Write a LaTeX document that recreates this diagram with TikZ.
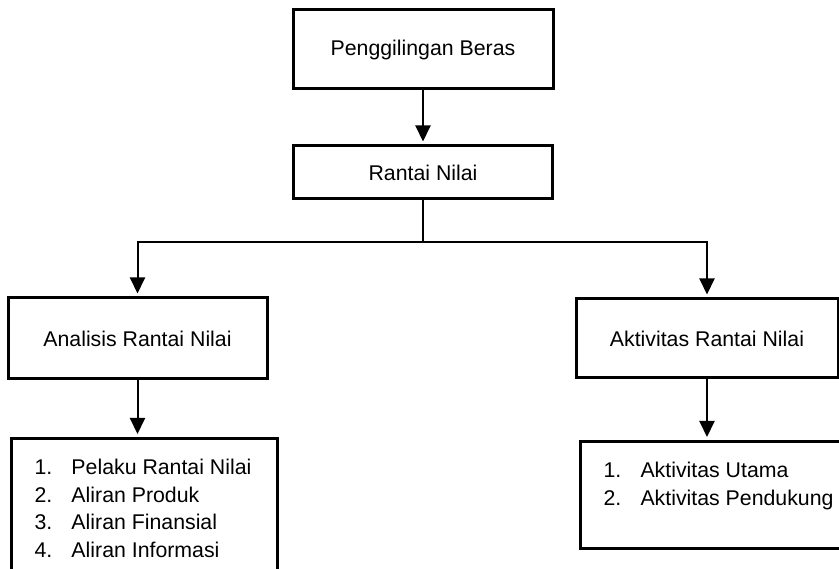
\documentclass[tikz,border=0pt]{standalone}
\usepackage{fontspec}
\setmainfont{Liberation Sans}
\usetikzlibrary{arrows.meta}
\begin{document}
\begin{tikzpicture}[x=1pt, y=-1pt, >={Triangle[width=15pt,length=16pt]},
  kotak/.style={draw, line width=3pt, inner sep=0pt, font=\fontsize{21.3}{27.7}\selectfont},
  daftar/.style={kotak, anchor=north west, inner xsep=23pt, inner ysep=16.6pt},
  garis/.style={line width=2pt},
  panah/.style={garis, ->, shorten >=3pt}]
  \useasboundingbox (0,0) rectangle (839,569);
  \clip (0,0) rectangle (839,569);

  \node[kotak, minimum width=260pt, minimum height=79pt] (beras) at (423,49.5) {Penggilingan Beras};
  \node[kotak, minimum width=259pt, minimum height=53pt] (nilai) at (423,172.5) {Rantai Nilai};
  \node[kotak, minimum width=259pt, minimum height=81pt] (analisis) at (137.5,338.5) {Analisis Rantai Nilai};
  \node[kotak, minimum width=262pt, minimum height=79pt] (aktivitas) at (707,338.5) {Aktivitas Rantai Nilai};

  \node[daftar] (daftarAnalisis) at (10,437) {\begin{tabular}[t]{@{}p{37pt}@{}p{183pt}@{}}
    1. & Pelaku Rantai Nilai\\ 2. & Aliran Produk\\ 3. & Aliran Finansial\\ 4. & Aliran Informasi
  \end{tabular}};
  \node[daftar, text depth=54.4pt] (daftarAktivitas) at (579,440) {\begin{tabular}[t]{@{}p{37pt}@{}p{200pt}@{}}
    1. & Aktivitas Utama\\ 2. & Aktivitas Pendukung
  \end{tabular}};

  \coordinate (cabang) at (423,242);
  \draw[panah] (beras) -- (nilai);
  \draw[garis] (nilai) -- (cabang);
  \draw[panah] (cabang) -| (analisis);
  \draw[panah] (cabang) -| (aktivitas);
  \draw[panah] (analisis) -- (analisis.south |- daftarAnalisis.north);
  \draw[panah] (aktivitas) -- (aktivitas.south |- daftarAktivitas.north);
\end{tikzpicture}
\end{document}
